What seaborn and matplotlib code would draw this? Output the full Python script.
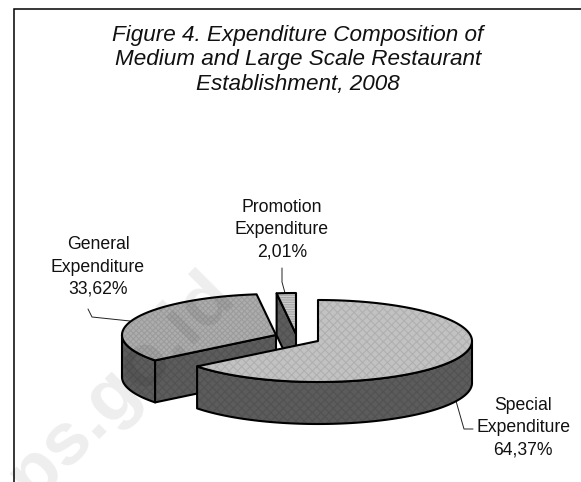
import numpy as np
import matplotlib
matplotlib.use('Agg')
import matplotlib.pyplot as plt
from matplotlib.patches import Polygon
import seaborn as sns

sns.set_theme(style='white')
plt.rcParams['font.family'] = ['Liberation Sans', 'DejaVu Sans']
plt.rcParams['hatch.linewidth'] = 0.8

title = 'Figure 4. Expenditure Composition of\nMedium and Large Scale Restaurant\nEstablishment, 2008'
names = ['Special\nExpenditure', 'General\nExpenditure', 'Promotion\nExpenditure']
shares = [64.37, 33.62, 2.01]
value_text = ['64,37%', '33,62%', '2,01%']
watermark = 'bps.go.id'

# pie geometry in pixels
rx, ry, depth = 154, 41, 42
centers = [(318, 341), (276, 335), (296, 334)]
label_pos = [(523, 428), (98, 267), (282, 230)]
leaders = [[(456, 401), (464, 429), (473, 429)],
           [(88, 309), (92, 317), (130, 321)],
           [(282, 268), (282, 282), (285, 293)]]

grays = sns.color_palette(['#c2c2c2', '#adadad', '#a8a8a8', '#5c5c5c'])
hatch_col = sns.color_palette(['#b0b0b0', '#9c9c9c', '#cccccc', '#525252'])
top_hatch = ['xxxx', 'xxxxxx', '-------']

fig, ax = plt.subplots(figsize=(5.81, 4.82), dpi=100)
ax.set_position([0, 0, 1, 1])
ax.set_xlim(0, 581)
ax.set_ylim(482, 0)
ax.axis('off')


def rim(c, a, b):
    t = np.radians(np.linspace(a, b, 120))
    return np.column_stack([c[0] + rx * np.sin(t), c[1] - ry * np.cos(t)])


def face(pts, col, hcol, hatch, z):
    ax.add_patch(Polygon(pts, closed=True, facecolor=col, edgecolor=hcol, hatch=hatch, lw=0, zorder=z))
    ax.add_patch(Polygon(pts, closed=True, fill=False, edgecolor='black', lw=1.5, joinstyle='round', zorder=z))


# cumulative angles clockwise from the top
edges = np.cumsum([0] + shares) * 3.6
down = np.array([0, depth])
dark, dark_h = grays[3], hatch_col[3]

# promotion slice, drawn first because it sits at the back
c = centers[2]
a, b = edges[2], edges[3]
arc = rim(c, a, b)
face([arc[0], c, np.array(c) + down, arc[0] + down], dark, dark_h, 'xxxx', 2)
face(np.vstack([[c], arc]), grays[2], hatch_col[2], top_hatch[2], 3)

# general slice
c = centers[1]
a, b = edges[1], edges[2]
wall = rim(c, a, 270)
face(np.vstack([wall, (wall + down)[::-1]]), dark, dark_h, 'xxxx', 4)
arc = rim(c, a, b)
face([c, arc[0], arc[0] + down, np.array(c) + down], dark, dark_h, 'xxxx', 4)
face(np.vstack([[c], arc]), grays[1], hatch_col[1], top_hatch[1], 5)

# special slice in front
c = centers[0]
a, b = edges[0], edges[1]
wall = rim(c, 90, b)
face(np.vstack([wall, (wall + down)[::-1]]), dark, dark_h, 'xxxx', 6)
face(np.vstack([[c], rim(c, a, b)]), grays[0], hatch_col[0], top_hatch[0], 7)

for line in leaders:
    xs, ys = zip(*line)
    ax.plot(xs, ys, color='#222222', lw=0.7, zorder=1)

for name, val, pos in zip(names, value_text, label_pos):
    ax.text(pos[0], pos[1], name + '\n' + val, ha='center', va='center', fontsize=12.7,
            linespacing=1.42, color='#111111', zorder=8)

ax.text(298, 60, title, ha='center', va='center', fontsize=16.2, style='italic',
        linespacing=1.23, color='#111111', zorder=8)

# frame, open at the right and bottom of the scan
ax.plot([13.5, 13.5, 581], [482, 8.5, 8.5], color='black', lw=1.1, zorder=8, solid_joinstyle='miter')

# scan watermark, darkens whatever is under it
ax.text(105, 402, watermark, rotation=45, rotation_mode='anchor', ha='center', va='center',
        fontsize=54, fontweight='bold', color='black', alpha=0.07, zorder=9)

fig.savefig('out.png', dpi=100)
